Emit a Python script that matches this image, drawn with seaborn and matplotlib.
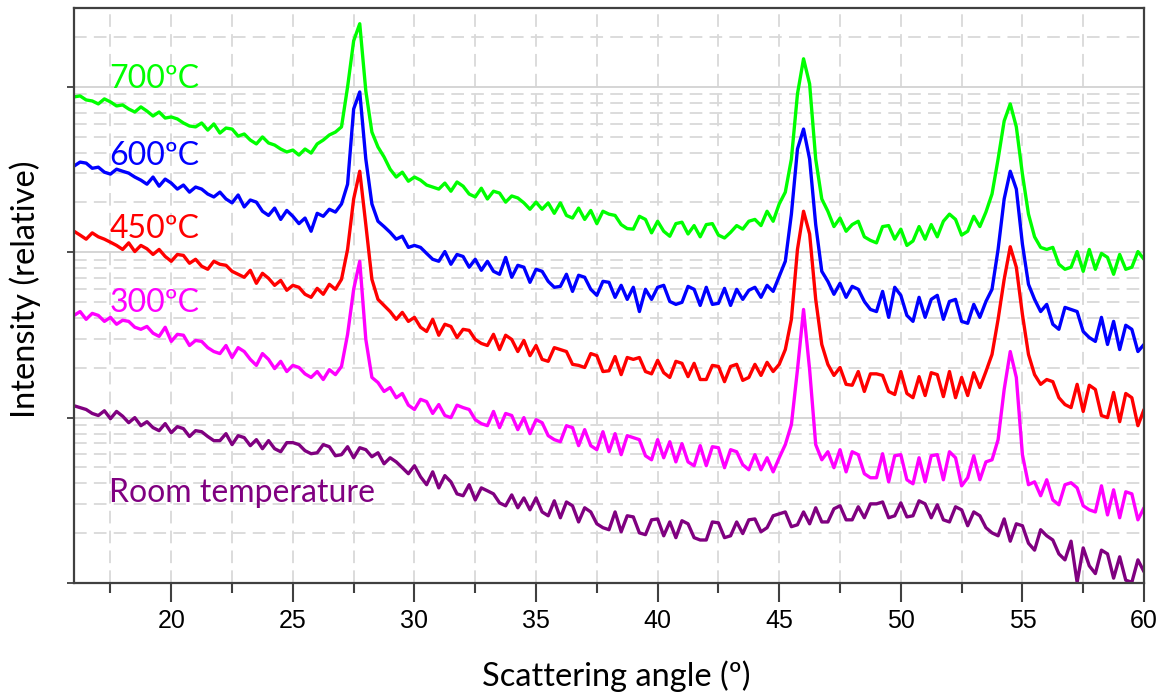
import numpy as np
import pandas as pd
import matplotlib
matplotlib.use("Agg")
import matplotlib.pyplot as plt
import seaborn as sns
from matplotlib.ticker import MultipleLocator, LogLocator, NullFormatter

# ---- data ----
angles = np.linspace(16, 60, 177)  # scan grid, 0.25 deg steps

int_700 = [
    870, 882, 834, 822, 789, 846, 811, 767, 778, 735, 705, 757, 714, 667, 705, 648,
    658, 640, 605, 580, 573, 605, 548, 597, 526, 564, 556, 504, 519, 477, 452, 498,
    458, 445, 421, 404, 415, 387, 421, 398, 452, 477, 512, 533, 573, 999, 1899, 2410,
    945, 533, 433, 377, 318, 285, 305, 269, 285, 273, 255, 248, 241, 262, 234, 266,
    251, 225, 216, 244, 210, 234, 228, 201, 219, 213, 199, 182, 201, 182, 199, 172,
    199, 167, 161, 185, 158, 179, 149, 177, 170, 167, 147, 139, 138, 165, 158, 131,
    154, 134, 125, 149, 152, 129, 145, 124, 147, 149, 127, 122, 132, 145, 138, 154,
    158, 145, 177, 154, 196, 231, 366, 907, 1479, 1042, 366, 210, 177, 143, 161, 134,
    147, 154, 124, 118, 114, 143, 145, 120, 138, 110, 117, 143, 120, 147, 124, 154,
    170, 158, 127, 134, 165, 143, 175, 225, 366, 622, 789, 573, 297, 170, 124, 107,
    104, 107, 84.6, 78.9, 81.2, 101, 76.7, 104, 78.9, 98.4, 93.1, 73.6, 97.0, 78.9, 81.2, 101,
    90.7]

int_600 = [
    332, 351, 346, 322, 327, 305, 297, 318, 309, 301, 285, 273, 258, 285, 251, 277,
    262, 241, 255, 231, 248, 241, 225, 216, 231, 210, 199, 222, 188, 207, 201, 177,
    167, 185, 158, 179, 165, 149, 161, 134, 172, 165, 182, 175, 196, 258, 735, 932,
    366, 196, 154, 143, 132, 120, 125, 107, 110, 107, 98.4, 90.7, 88.2, 101, 84.6, 97.0,
    94.3, 81.2, 90.7, 77.8, 88.2, 76.7, 73.6, 93.1, 70.6, 83.4, 81.2, 65.8, 78.9, 76.7, 66.7, 61.4,
    62.2, 73.6, 58.0, 72.6, 70.6, 59.7, 54.9, 66.7, 65.8, 53.4, 63.1, 51.9, 61.4, 43.8, 59.7, 51.9,
    61.4, 63.1, 50.4, 48.4, 49.8, 62.2, 59.7, 47.7, 61.4, 48.4, 49.1, 60.5, 47.7, 59.7, 51.9, 58.9,
    61.4, 53.4, 63.1, 58.0, 71.5, 88.2, 170, 421, 556, 366, 147, 76.7, 66.7, 55.7, 64.9, 53.4,
    62.2, 59.7, 50.4, 45.1, 43.8, 58.0, 40.4, 61.4, 54.9, 41.5, 38.2, 53.4, 40.4, 51.9, 54.9, 39.3,
    50.4, 51.9, 38.2, 37.2, 48.4, 40.4, 50.4, 59.7, 104, 210, 309, 241, 112, 64.0, 51.9, 43.8,
    48.4, 36.7, 34.2, 46.4, 45.1, 43.8, 33.2, 30.5, 28.9, 40.4, 27.7, 38.2, 25.8, 36.2, 34.2, 25.1,
    27.7]

int_450 = [
    134, 127, 120, 131, 124, 120, 115, 110, 104, 114, 101, 110, 105, 97.0, 104, 94.3,
    88.2, 97.0, 95.7, 85.8, 90.7, 82.3, 78.9, 88.2, 84.6, 83.4, 76.7, 73.6, 70.6, 77.8, 64.9, 74.6,
    69.6, 63.1, 67.6, 58.9, 63.1, 61.4, 55.7, 53.4, 60.5, 55.7, 64.0, 59.7, 68.6, 104, 210, 309,
    147, 68.6, 51.9, 47.7, 43.8, 39.3, 43.3, 38.2, 40.4, 35.2, 33.2, 39.3, 31.5, 36.7, 35.6, 30.5,
    34.2, 33.7, 29.7, 28.1, 27.3, 31.9, 25.8, 31.5, 29.7, 25.1, 29.3, 23.7, 27.3, 22.5, 21.9, 26.5,
    25.8, 25.1, 21.0, 20.7, 20.1, 24.4, 23.7, 19.0, 19.2, 23.4, 18.2, 23.1, 22.5, 23.1, 19.0, 18.4,
    22.2, 18.7, 17.5, 21.9, 21.3, 17.7, 21.3, 17.0, 17.0, 20.7, 20.4, 16.5, 20.4, 21.0, 16.8, 17.5,
    21.0, 18.0, 21.6, 19.0, 21.0, 25.8, 39.3, 104, 177, 129, 51.9, 27.7, 21.0, 18.0, 20.1, 15.9,
    15.7, 19.0, 14.4, 18.4, 18.4, 18.0, 14.4, 13.8, 19.0, 14.0, 13.2, 17.7, 13.6, 18.7, 18.2, 13.4,
    19.0, 13.2, 17.5, 13.6, 18.7, 15.2, 19.0, 24.1, 39.3, 68.6, 108, 81.2, 42.1, 24.1, 18.2, 15.9,
    17.0, 16.5, 13.2, 12.0, 11.5, 15.9, 10.9, 15.7, 14.8, 10.3, 10.0, 14.2, 9.45, 14.0, 13.2, 8.94,
    11.2]

int_300 = [
    41.5, 43.8, 39.3, 42.7, 41.5, 38.2, 40.4, 36.7, 38.8, 38.2, 35.2, 34.2, 35.6, 32.4, 31.0, 35.2,
    28.9, 31.9, 31.5, 27.3, 29.3, 28.9, 26.5, 25.1, 24.4, 27.3, 23.1, 26.5, 25.1, 22.5, 20.7, 24.4,
    22.5, 19.8, 21.9, 19.0, 20.7, 20.1, 18.4, 17.5, 19.0, 17.0, 19.5, 18.2, 20.4, 31.9, 59.7, 88.2,
    29.7, 17.5, 16.3, 14.4, 15.2, 13.2, 14.0, 11.9, 11.2, 12.9, 12.5, 10.6, 12.0, 10.3, 10.0, 11.9,
    11.5, 11.2, 9.72, 9.20, 8.94, 10.9, 8.70, 10.6, 10.3, 8.46, 10.0, 8.00, 9.72, 9.32, 7.78, 7.36,
    7.15, 8.94, 8.70, 6.77, 8.46, 6.77, 6.40, 8.22, 6.22, 8.00, 5.97, 7.78, 7.57, 7.36, 5.88, 5.56,
    7.36, 5.72, 7.15, 5.40, 6.96, 5.40, 5.12, 6.77, 5.12, 6.67, 6.58, 4.98, 6.40, 6.22, 5.19, 4.84,
    5.97, 4.84, 5.72, 4.70, 5.72, 6.87, 9.07, 19.5, 45.1, 19.5, 6.87, 5.56, 6.22, 4.98, 6.40, 4.70,
    6.22, 5.97, 4.58, 4.33, 4.33, 6.05, 4.09, 5.88, 5.97, 4.21, 3.98, 5.72, 4.09, 5.88, 5.97, 4.21,
    6.22, 5.72, 3.87, 4.33, 5.88, 4.21, 5.40, 5.56, 7.36, 14.8, 25.1, 17.5, 5.97, 3.93, 4.09, 3.37,
    4.21, 3.18, 2.97, 3.93, 4.04, 3.76, 2.93, 2.77, 2.69, 3.87, 2.58, 3.66, 2.48, 3.56, 3.46, 2.41,
    2.85]

int_room = [
    11.8, 11.5, 11.2, 10.6, 10.3, 11.0, 9.86, 10.9, 10.2, 9.32, 10.0, 8.94, 9.45, 8.70, 8.34, 9.20,
    8.11, 8.82, 8.58, 7.69, 8.34, 8.22, 7.69, 7.26, 7.26, 8.00, 6.87, 7.78, 7.57, 6.77, 7.36, 6.49,
    7.26, 6.49, 6.22, 7.06, 7.06, 6.87, 6.31, 6.05, 6.13, 6.87, 6.67, 5.88, 5.97, 6.67, 5.72, 6.58,
    6.40, 5.80, 6.13, 5.26, 5.72, 5.40, 4.98, 4.58, 5.12, 4.39, 3.93, 4.70, 3.76, 4.46, 4.09, 3.46,
    3.37, 3.93, 3.18, 3.76, 3.61, 3.46, 3.05, 2.93, 3.41, 2.85, 3.27, 2.77, 3.27, 2.69, 2.55, 3.14,
    2.48, 3.09, 2.93, 2.34, 2.85, 2.69, 2.28, 2.16, 2.10, 2.69, 2.04, 2.55, 2.51, 2.01, 1.96, 2.41,
    2.44, 1.93, 2.34, 1.88, 2.38, 2.28, 1.88, 1.82, 1.82, 2.34, 2.31, 1.88, 1.93, 2.34, 1.99, 2.41,
    2.44, 2.04, 2.16, 2.55, 2.62, 2.69, 2.19, 2.25, 2.69, 2.28, 2.85, 2.34, 2.34, 2.81, 2.93, 2.41,
    2.41, 2.89, 2.48, 3.01, 3.01, 3.09, 2.48, 2.55, 3.05, 2.51, 2.55, 3.14, 3.01, 2.48, 2.97, 2.41,
    2.34, 2.89, 2.77, 2.22, 2.69, 2.55, 2.16, 2.01, 1.93, 2.44, 1.79, 2.28, 2.22, 1.74, 1.58, 2.10,
    1.93, 1.82, 1.50, 1.38, 1.79, 1.01, 1.63, 1.27, 1.14, 1.58, 1.50, 1.07, 1.44, 1.04, 1.01, 1.38,
    1.17]

series_names = ["700ºC", "600ºC", "450ºC", "300ºC", "Room temperature"]
series_values = [int_700, int_600, int_450, int_300, int_room]
series_colors = ["#00FF00", "#0000FF", "#FF0000", "#FF00FF", "#800080"]
label_y = [1118, 382, 138, 49, 3.5]
label_x = 17.45

x_ticks = [20, 25, 30, 35, 40, 45, 50, 55, 60]

df = pd.concat(
    [pd.DataFrame({"angle": angles, "intensity": vals, "series": name})
     for name, vals in zip(series_names, series_values)],
    ignore_index=True)

# ---- styling ----
sns.set_theme(style="white")
plt.rcParams["font.family"] = ["Lato", "DejaVu Sans"]

fig = plt.figure(figsize=(11.69, 6.94), dpi=100)
ax = fig.add_axes([74 / 1169, 1 - 583 / 694, 1070 / 1169, 575 / 694])

sns.lineplot(data=df, x="angle", y="intensity", hue="series",
             hue_order=series_names,
             palette=dict(zip(series_names, series_colors)),
             estimator=None, sort=False, lw=2.4, legend=False, ax=ax)

ax.set_yscale("log")
ax.set_xlim(16, 60)
ax.set_ylim(1, 3000)

ax.set_xticks(x_ticks)
ax.xaxis.set_minor_locator(MultipleLocator(2.5))
ax.yaxis.set_major_locator(LogLocator(base=10, numticks=10))
ax.yaxis.set_minor_locator(LogLocator(base=10, subs=range(2, 10), numticks=20))
ax.yaxis.set_major_formatter(NullFormatter())
ax.yaxis.set_minor_formatter(NullFormatter())

ax.set_axisbelow(True)
ax.grid(which="major", axis="y", color="#d2d2d2", lw=1.3, ls="-")
ax.grid(which="minor", axis="y", color="#d9d9d9", lw=1.3, ls=(0, (7, 4)))
ax.grid(which="both", axis="x", color="#d9d9d9", lw=1.3, ls=(0, (7, 4)))

for s in ax.spines.values():
    s.set_visible(True)
    s.set_color("#404040")
    s.set_linewidth(1.6)

ax.tick_params(axis="x", which="major", direction="out", length=14, width=1.5,
               color="#404040", pad=5, labelsize=18, labelcolor="black",
               labelfontfamily="Liberation Sans", bottom=True)
ax.tick_params(axis="x", which="minor", direction="out", length=7, width=1.5,
               color="#404040", bottom=True)
ax.tick_params(axis="y", which="major", direction="out", length=5, width=1.3,
               color="#404040", left=True)
ax.tick_params(axis="y", which="minor", length=0)

ax.set_xlabel("Scattering angle (º)", fontsize=23.5, color="black")
ax.set_ylabel("Intensity (relative)", fontsize=23.5, color="black")
ax.xaxis.label.set_verticalalignment("center")
ax.yaxis.label.set_verticalalignment("center")
ax.xaxis.set_label_coords((616 - 74) / 1070, -(676 - 583) / 575)
ax.yaxis.set_label_coords(-(74 - 25) / 1070, 0.51)

for name, c, yv in zip(series_names, series_colors, label_y):
    ax.text(label_x, yv, name, color=c, fontsize=23, ha="left", va="center",
            family=["Lato", "DejaVu Sans"])

fig.savefig("out.png", dpi=100)
